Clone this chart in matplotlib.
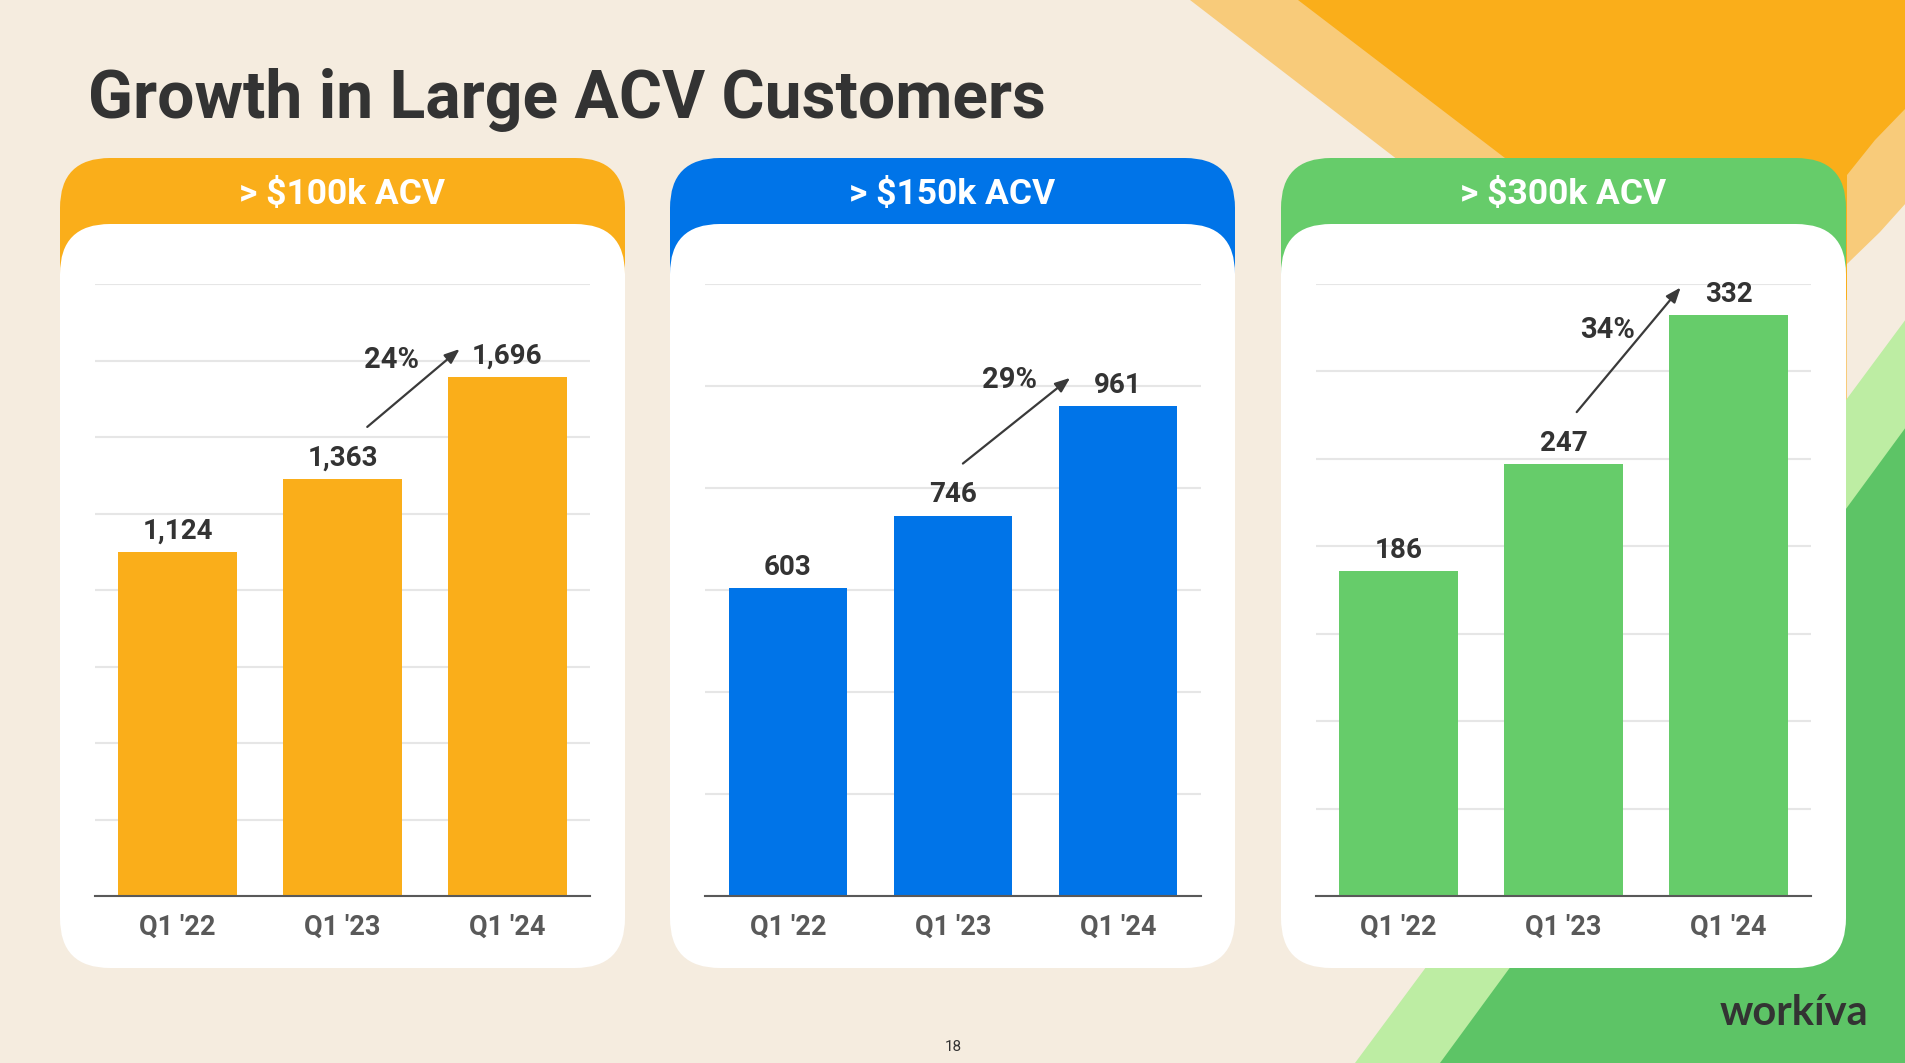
import numpy as np
import matplotlib.pyplot as plt
from matplotlib.patches import FancyBboxPatch, Polygon

# data
categories = ["Q1 '22", "Q1 '23", "Q1 '24"]
acv_100k = [1124, 1363, 1696]
acv_150k = [603, 746, 961]
acv_300k = [186, 247, 332]
growth = ["24%", "29%", "34%"]
panel_titles = ["> $100k ACV", "> $150k ACV", "> $300k ACV"]
y_max = [2000, 1200, 350]
y_step = [250, 200, 50]

series = [acv_100k, acv_150k, acv_300k]
colors = ["#FAAE1A", "#0074E8", "#66CC6A"]
arrow_x0 = [1.15, 1.06, 1.08]  # arrow start, in bar units
label_t = [0.86, 0.97, 0.66]   # where the % label sits along the arrow
label_dx = [-28, -30, -10]     # px gap left of the arrow

W, H = 1906, 1063
BG = "#F5ECDF"
DARK = "#333333"
plt.rcParams['font.family'] = ['Roboto', 'DejaVu Sans']

fig = plt.figure(figsize=(W / 100, H / 100), dpi=100)
fig.patch.set_facecolor(BG)

# background layer in pixel coordinates (y down)
bg = fig.add_axes([0, 0, 1, 1])
bg.set_xlim(0, W)
bg.set_ylim(H, 0)
bg.axis('off')

# decorative shapes
bg.add_patch(Polygon([(1190, 0), (W, 0), (W, 203), (1880, 232), (1847, 264),
                      (1847, 400), (1710, 400)], closed=True, fc="#F8CB7A", ec='none'))
bg.add_patch(Polygon([(1298, 0), (W, 0), (W, 108), (1875, 140), (1847, 175),
                      (1847, 300), (1691, 300)], closed=True, fc="#FAAE1A", ec='none'))
bg.add_patch(Polygon([(1355, H), (W, 319), (W, H)], closed=True, fc="#BDEDA3", ec='none'))
bg.add_patch(Polygon([(1440, H), (W, 427), (W, H)], closed=True, fc="#5DC466", ec='none'))

# title
bg.text(88, 118, "Growth in Large ACV Customers", fontsize=47.5, fontweight='bold',
        color=DARK, ha='left', va='baseline')

panel_left = [60, 670, 1281]
panel_w = 565
for i in range(3):
    left = panel_left[i]
    bg.add_patch(FancyBboxPatch((left, 158), panel_w, 300,
                                boxstyle="round,pad=0,rounding_size=50",
                                fc=colors[i], ec='none'))
    bg.add_patch(FancyBboxPatch((left, 224), panel_w, 968 - 224,
                                boxstyle="round,pad=0,rounding_size=50",
                                fc='white', ec='none'))
    bg.text(left + panel_w / 2, 194, panel_titles[i], fontsize=25.5, fontweight='bold',
            color='white', ha='center', va='center')

# bar charts
for i in range(3):
    vals = series[i]
    ax_left = 95 + 610.5 * i
    ax = fig.add_axes([ax_left / W, (H - 896) / H, 495 / W, 612 / H])
    ax.patch.set_alpha(0)
    x = np.arange(len(categories))
    ax.bar(x, vals, width=0.72, color=colors[i], zorder=3)
    ax.set_xlim(-0.5, 2.5)
    ax.set_ylim(0, y_max[i])
    ax.set_yticks(np.arange(0, y_max[i] + 1, y_step[i]))
    ax.yaxis.grid(True, color='#E6E6E6', lw=1.5)
    ax.set_axisbelow(True)
    for s in ['top', 'right', 'left']:
        ax.spines[s].set_visible(False)
    ax.spines['bottom'].set_color('#595959')
    ax.spines['bottom'].set_linewidth(1.5)
    ax.spines['bottom'].set_zorder(4)
    ax.tick_params(axis='y', left=False, labelleft=False)
    ax.tick_params(axis='x', length=0, pad=13)
    ax.set_xticks(x)
    ax.set_xticklabels(categories, fontsize=19.5, fontweight='bold', color='#595959')

    for xi, v in zip(x, vals):
        ax.annotate(f"{v:,}", (xi, v), xytext=(0, 9.5), textcoords='offset points',
                    ha='center', va='baseline', fontsize=20, fontweight='bold', color=DARK)

    # growth arrow from Q1 '23 to Q1 '24 (pixel offsets above the bars)
    p0 = ax.transData.transform((arrow_x0[i], vals[1])) + np.array([0, 52])
    p1 = ax.transData.transform((1.71, vals[2])) + np.array([0, 28])
    ax.annotate("", xy=p1, xycoords='figure pixels', xytext=p0, textcoords='figure pixels',
                arrowprops=dict(arrowstyle='-|>,head_length=0.9,head_width=0.35',
                                color='#3A3A3A', lw=1.6, shrinkA=0, shrinkB=0))
    pl = p0 + (p1 - p0) * label_t[i]
    ax.annotate(growth[i], xy=(pl[0] + label_dx[i], pl[1]), xycoords='figure pixels',
                ha='right', va='center', fontsize=21, fontweight='bold', color=DARK)

# logo and page number
bg.text(1868, 1013, "workíva", fontsize=30, fontweight='bold', color=DARK,
        ha='right', va='center', family=['Lato', 'DejaVu Sans'])
bg.text(953, 1047, "18", fontsize=11, color=DARK, ha='center', va='center')

plt.savefig('out.png', dpi=100, facecolor=BG)
plt.close()
